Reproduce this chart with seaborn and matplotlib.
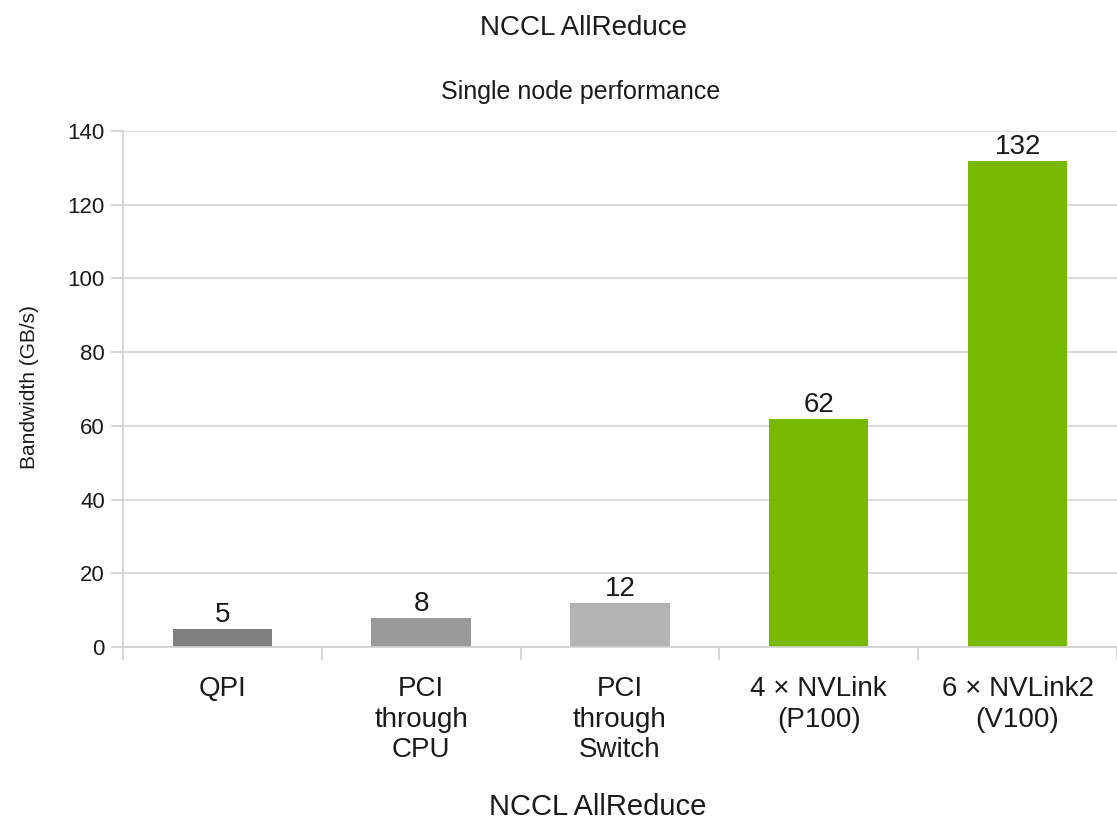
import matplotlib
matplotlib.use("Agg")
import matplotlib.pyplot as plt
import seaborn as sns
import pandas as pd
from matplotlib.ticker import FixedLocator

categories = ["QPI", "PCI\nthrough\nCPU", "PCI\nthrough\nSwitch", "4 × NVLink\n(P100)", "6 × NVLink2\n(V100)"]
bandwidth = [5, 8, 12, 62, 132]
bar_colors = ["#808080", "#999999", "#b3b3b3", "#76b900", "#76b900"]
y_ticks = [0, 20, 40, 60, 80, 100, 120, 140]

sns.set_theme(style="white")
plt.rcParams["font.family"] = ["Liberation Sans", "DejaVu Sans"]

df = pd.DataFrame({"category": categories, "bandwidth": bandwidth})

fig = plt.figure(figsize=(11.17, 8.19), dpi=100)
ax = fig.add_axes([0.110, 0.210, 0.890, 0.630])

sns.barplot(data=df, x="category", y="bandwidth", hue="category",
            palette=bar_colors, width=0.5, legend=False, ax=ax,
            saturation=1, edgecolor="none")

ax.set_xlim(-0.5, len(categories) - 0.5)
ax.set_ylim(0, 140)
ax.set_yticks(y_ticks)
ax.yaxis.grid(True, color="#d4d4d4", linewidth=1.2)
ax.set_axisbelow(True)

for spine in ["top", "right"]:
    ax.spines[spine].set_visible(False)
for spine in ["left", "bottom"]:
    ax.spines[spine].set_color("#d0d0d0")
    ax.spines[spine].set_linewidth(1.2)

ax.tick_params(axis="y", which="major", length=9, width=1.2, color="#d0d0d0",
               labelsize=16, labelcolor="#1a1a1a", pad=4, left=True)
ax.tick_params(axis="x", which="major", length=0, labelsize=20, labelcolor="#1a1a1a", pad=21)
for lbl in ax.get_xticklabels():
    lbl.set_linespacing(1.22)
ax.xaxis.set_minor_locator(FixedLocator([i - 0.5 for i in range(len(categories) + 1)]))
ax.tick_params(axis="x", which="minor", length=9, width=1.2, color="#d0d0d0", bottom=True)

for i, v in enumerate(bandwidth):
    ax.text(i, v + 0.2, str(v), ha="center", va="bottom", fontsize=20, color="#1a1a1a")

ax.set_xlabel("")
ax.set_ylabel("")

fig.text(30 / 1117, 1 - 387 / 819, "Bandwidth (GB/s)", rotation=90, ha="center", va="center",
         fontsize=15, color="#1a1a1a")
fig.text(0.522, 0.966, "NCCL AllReduce", ha="center", va="center", fontsize=20, color="#1a1a1a")
fig.text(0.520, 0.888, "Single node performance", ha="center", va="center", fontsize=18, color="#1a1a1a")
fig.text(0.535, 0.015, "NCCL AllReduce", ha="center", va="center", fontsize=21, color="#1a1a1a")

fig.savefig("out.png", dpi=100)
